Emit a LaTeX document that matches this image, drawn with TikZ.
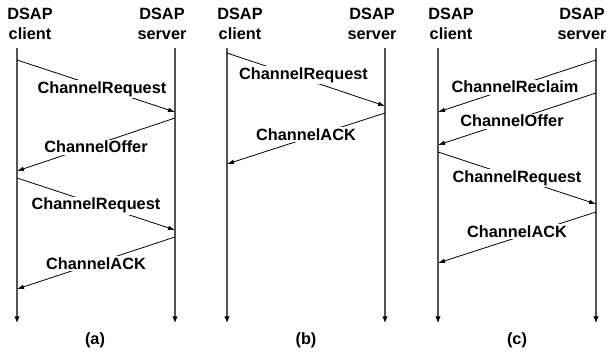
\documentclass[tikz,border=0pt]{standalone}
\usepackage{fontspec}
\setmainfont{Liberation Sans}
\usepackage{tikz}
\usetikzlibrary{arrows.meta, positioning}
\definecolor{grisLinea}{HTML}{555555}
\newcommand{\dsapfont}{\fontsize{16.3}{19.5}\selectfont\bfseries}

\begin{document}
\begin{tikzpicture}[
        x=1pt, y=-1pt,
        header/.style={anchor=north, align=center, inner sep=0pt, font=\dsapfont},
        lifeline/.style={-{Latex[length=6.5pt,width=5.5pt,black]}, grisLinea, line width=1.2pt},
        msg/.style={-{Latex[length=7pt,width=4.5pt]}, line width=0.8pt},
        msglabel/.style={anchor=base, fill=white, inner sep=1.5pt, font=\dsapfont},
        caption/.style={font=\dsapfont}
    ]
        \useasboundingbox (0,0) rectangle (608,352);

        % (a) full exchange
        \node[header] (hcliA) at (30,8) {DSAP\\client};
        \node[header] (hsrvA) at (162,8) {DSAP\\server};
        \coordinate (cliAtop) at (17,48);  \coordinate (cliAend) at (17,323);
        \coordinate (srvAtop) at (175,48); \coordinate (srvAend) at (175,323);
        \coordinate (a1c) at (17,60);  \coordinate (a1s) at (175,112);
        \coordinate (a2s) at (175,118); \coordinate (a2c) at (17,171);
        \coordinate (a3c) at (17,178); \coordinate (a3s) at (175,230);
        \coordinate (a4s) at (175,237); \coordinate (a4c) at (17,289);
        \draw[lifeline] (cliAtop) -- (cliAend);
        \draw[lifeline] (srvAtop) -- (srvAend);
        \draw[msg] (a1c) -- node[msglabel, xshift=6pt, yshift=-7.5pt]{ChannelRequest} (a1s);
        \draw[msg] (a2s) -- node[msglabel, yshift=-8.5pt]{ChannelOffer} (a2c);
        \draw[msg] (a3c) -- node[msglabel, yshift=-6pt]{ChannelRequest} (a3s);
        \draw[msg] (a4s) -- node[msglabel, yshift=-6.5pt]{ChannelACK} (a4c);
        \node[caption] (capA) at (95,340) {(a)};

        % (b) short exchange
        \node[header] (hcliB) at (240,8) {DSAP\\client};
        \node[header] (hsrvB) at (372,8) {DSAP\\server};
        \coordinate (cliBtop) at (227,48); \coordinate (cliBend) at (227,323);
        \coordinate (srvBtop) at (385,48); \coordinate (srvBend) at (385,323);
        \coordinate (b1c) at (227,53);  \coordinate (b1s) at (385,106);
        \coordinate (b2s) at (385,113); \coordinate (b2c) at (227,164);
        \draw[lifeline] (cliBtop) -- (cliBend);
        \draw[lifeline] (srvBtop) -- (srvBend);
        \draw[msg] (b1c) -- node[msglabel, xshift=-2.5pt]{ChannelRequest} (b1s);
        \draw[msg] (b2s) -- node[msglabel, yshift=-2pt]{ChannelACK} (b2c);
        \node[caption] (capB) at (306,340) {(b)};

        % (c) server reclaims the channel first
        \node[header] (hcliC) at (451,8) {DSAP\\client};
        \node[header] (hsrvC) at (582,8) {DSAP\\server};
        \coordinate (cliCtop) at (438,48); \coordinate (cliCend) at (438,323);
        \coordinate (srvCtop) at (596,48); \coordinate (srvCend) at (596,323);
        \coordinate (c1s) at (596,60);  \coordinate (c1c) at (438,112);
        \coordinate (c2s) at (596,93);  \coordinate (c2c) at (438,145);
        \coordinate (c3c) at (438,152); \coordinate (c3s) at (596,204);
        \coordinate (c4s) at (596,212); \coordinate (c4c) at (438,263);
        \draw[lifeline] (cliCtop) -- (cliCend);
        \draw[lifeline] (srvCtop) -- (srvCend);
        \draw[msg] (c1s) -- node[msglabel, xshift=-2pt, yshift=-7pt]{ChannelReclaim} (c1c);
        \draw[msg] (c2s) -- node[msglabel, xshift=-5pt, yshift=-8pt]{ChannelOffer} (c2c);
        \draw[msg] (c3c) -- node[msglabel, yshift=-4.5pt]{ChannelRequest} (c3s);
        \draw[msg] (c4s) -- node[msglabel]{ChannelACK} (c4c);
        \node[caption] (capC) at (517,340) {(c)};
    \end{tikzpicture}
\end{document}
